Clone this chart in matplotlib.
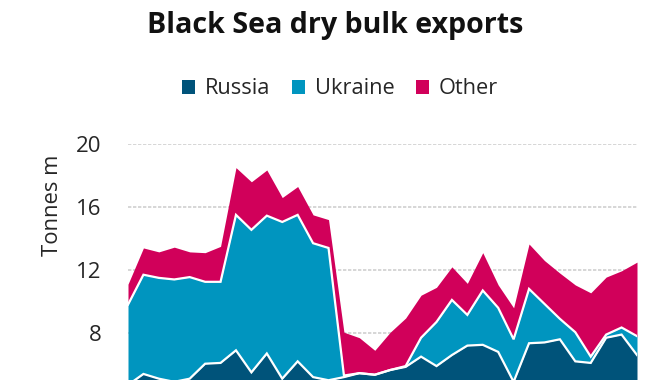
import matplotlib
matplotlib.use("Agg")
import matplotlib.pyplot as plt
import numpy as np
from matplotlib.patches import Patch

plt.rcParams['font.family'] = ['Open Sans', 'DejaVu Sans']

# Monthly observations (index positions)
months = list(range(34))
russia = [4.7, 5.4, 5.1, 4.9, 5.1, 6.05, 6.1, 6.9, 5.5, 6.7, 5.1, 6.2, 5.2, 5.0,
          5.2, 5.45, 5.35, 5.65, 5.85, 6.5, 5.9, 6.6, 7.2, 7.25, 6.8, 4.9, 7.35,
          7.4, 7.6, 6.2, 6.1, 7.7, 7.9, 6.6]
ukraine = [5.1, 6.3, 6.4, 6.5, 6.45, 5.2, 5.15, 8.6, 9.05, 8.75, 9.95, 9.3, 8.5, 8.4,
           0.1, 0.0, 0.0, 0.0, 0.05, 1.2, 2.8, 3.5, 1.95, 3.45, 2.8, 2.7, 3.45,
           2.45, 1.3, 1.85, 0.4, 0.2, 0.45, 1.2]
other = [1.3, 1.7, 1.65, 2.05, 1.6, 1.85, 2.25, 3.0, 3.05, 2.9, 1.55, 1.8, 1.8, 1.8,
         2.75, 2.25, 1.55, 2.4, 3.05, 2.7, 2.2, 2.1, 2.0, 2.4, 1.45, 2.0, 2.85,
         2.75, 2.9, 3.0, 4.05, 3.65, 3.6, 4.7]
series_names = ["Russia", "Ukraine", "Other"]
yticks = [8, 12, 16, 20]

colors = ["#00537A", "#0095BF", "#D1005A"]

fig = plt.figure(figsize=(6.7, 3.8), dpi=100)
ax = fig.add_axes([128/670, 1 - 459/380, (637-128)/670, (459-144)/380])

x = np.array(months)
r = np.array(russia)
u = np.array(ukraine)
o = np.array(other)
c1 = r
c2 = r + u
c3 = r + u + o

for yv in yticks:
    ax.axhline(yv, color="#CFCFCF", lw=1.2, ls=(0, (2, 1)), zorder=0)

ax.fill_between(x, 0, c1, color=colors[0], lw=0, zorder=2)
ax.fill_between(x, c1, c2, color=colors[1], lw=0, zorder=2)
ax.fill_between(x, c2, c3, color=colors[2], lw=0, zorder=2)
ax.plot(x, c1, color="white", lw=1.6, zorder=3, solid_joinstyle="miter")
ax.plot(x, c2, color="white", lw=1.6, zorder=3, solid_joinstyle="miter")

ax.set_xlim(0, 33)
ax.set_ylim(0, 20)
ax.set_yticks(yticks)
ax.set_yticklabels([str(v) for v in yticks], fontsize=16, color="#262626")
ax.tick_params(axis="y", length=0, pad=19)
ax.set_xticks([])
for s in ax.spines.values():
    s.set_visible(False)

fig.text(52/670, 1 - 205/380, "Tonnes m", rotation=90, ha="center", va="center",
         fontsize=15.8, color="#262626")

fig.text(335/670, 1 - 25/380, "Black Sea dry bulk exports", ha="center", va="center",
         fontsize=20.6, fontweight="bold", color="#111111")

handles = [Patch(facecolor=c, edgecolor="none") for c in colors]
fig.legend(handles, series_names, loc="center", bbox_to_anchor=(340/670, 1 - 89/380),
           ncol=3, frameon=False, fontsize=15.7, handlelength=0.6, handleheight=0.6,
           handletextpad=0.45, columnspacing=1.0, labelcolor="#262626")

fig.savefig("out.png", dpi=100)
